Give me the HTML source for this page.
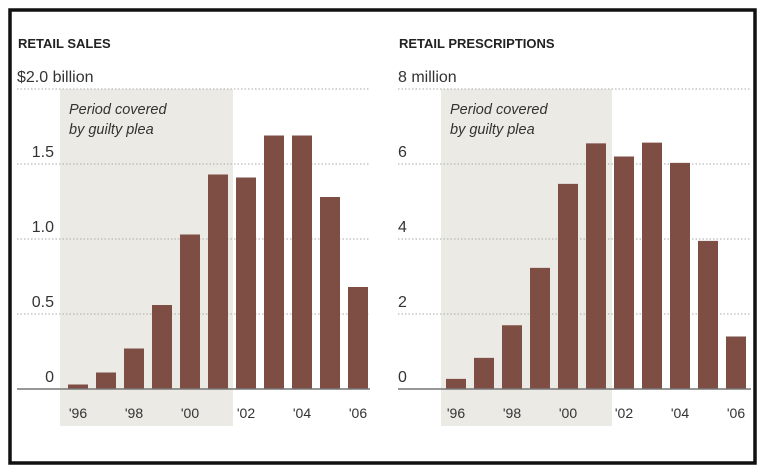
<!DOCTYPE html>
<html><head><meta charset="utf-8"><style>
body{margin:0;background:#fff;}
svg{display:block;font-family:"Liberation Sans",sans-serif;}
</style></head><body>
<svg id="c" width="766" height="473">
<rect x="10" y="10" width="745" height="453" fill="#fff" stroke="#111" stroke-width="3.5"/>
</svg>
<script>
const years=['96','97','98','99','00','01','02','03','04','05','06'];
const salesValues=[0.03,0.11,0.27,0.56,1.03,1.43,1.41,1.69,1.69,1.28,0.68];
const rxValues=[0.27,0.83,1.7,3.23,5.47,6.55,6.2,6.57,6.03,3.95,1.4];
const salesTicks=['0','0.5','1.0','1.5','$2.0 billion'];
const rxTicks=['0','2','4','6','8 million'];
const xLabels=["'96","'98","'00","'02","'04","'06"];
const NS='http://www.w3.org/2000/svg';
const svg=document.getElementById('c');
function mk(tag,attrs,parent){const e=document.createElementNS(NS,tag);for(const k in attrs)e.setAttribute(k,attrs[k]);(parent||svg).appendChild(e);return e;}
function panel(o){
  const g=mk('g',{});
  
  
  const y=v=>389-v/o.max*300;
  const xb=i=>o.bar0+i*28;
  const band=mk('rect',{x:o.bandX,y:89,width:o.bandW,height:337,fill:'#ebeae4'},g);
  
  
  const t=mk('text',{x:o.titleX,y:48,'font-size':13,'font-weight':'bold',fill:'#222'},g);
  t.textContent=o.title;
  
  
  o.ticks.forEach((lab,k)=>{
    const v=k*o.max/4;
    const gl=mk('line',{x1:o.ax0,x2:o.ax1,y1:y(v),y2:y(v),stroke:'#aaa','stroke-width':1,'stroke-dasharray':'1.5,2'},g);
    
    
    const isTop=k===4;
    const tx=mk('text',{x:isTop?o.ax0:o.tickX,y:y(v)-7,'font-size':16,fill:'#333','text-anchor':isTop?'start':o.anchor},g);
    tx.textContent=lab;
    
    
  });
  const n1=mk('text',{x:o.bandX+9,y:114,'font-size':14.5,'font-style':'italic',fill:'#333'},g);
  n1.textContent='Period covered';
  
  
  const n2=mk('text',{x:o.bandX+9,y:134,'font-size':14.5,'font-style':'italic',fill:'#333'},g);
  n2.textContent='by guilty plea';
  
  
  o.values.forEach((v,i)=>{
    const r=mk('rect',{x:xb(i),y:y(v),width:20,height:389-y(v),fill:'#7e4e45'},g);
    
    
  });
  const ax=mk('line',{x1:o.ax0,x2:o.ax1,y1:389,y2:389,stroke:'#777','stroke-width':1.5},g);
  
  
  xLabels.forEach((l,k)=>{
    const tx=mk('text',{x:xb(k*2)+10,y:418,'font-size':14,fill:'#333','text-anchor':'middle'},g);
    tx.textContent=l;
    
    
  });
}
panel({name:'retail-sales-panel',title:'RETAIL SALES',titleX:18,values:salesValues,ticks:salesTicks,max:2,bar0:68,bandX:60,bandW:173,ax0:17,ax1:370,tickX:54,anchor:'end'});
panel({name:'retail-prescriptions-panel',title:'RETAIL PRESCRIPTIONS',titleX:399,values:rxValues,ticks:rxTicks,max:8,bar0:446,bandX:441,bandW:171,ax0:398,ax1:751,tickX:398,anchor:'start'});
</script>
</body></html>
